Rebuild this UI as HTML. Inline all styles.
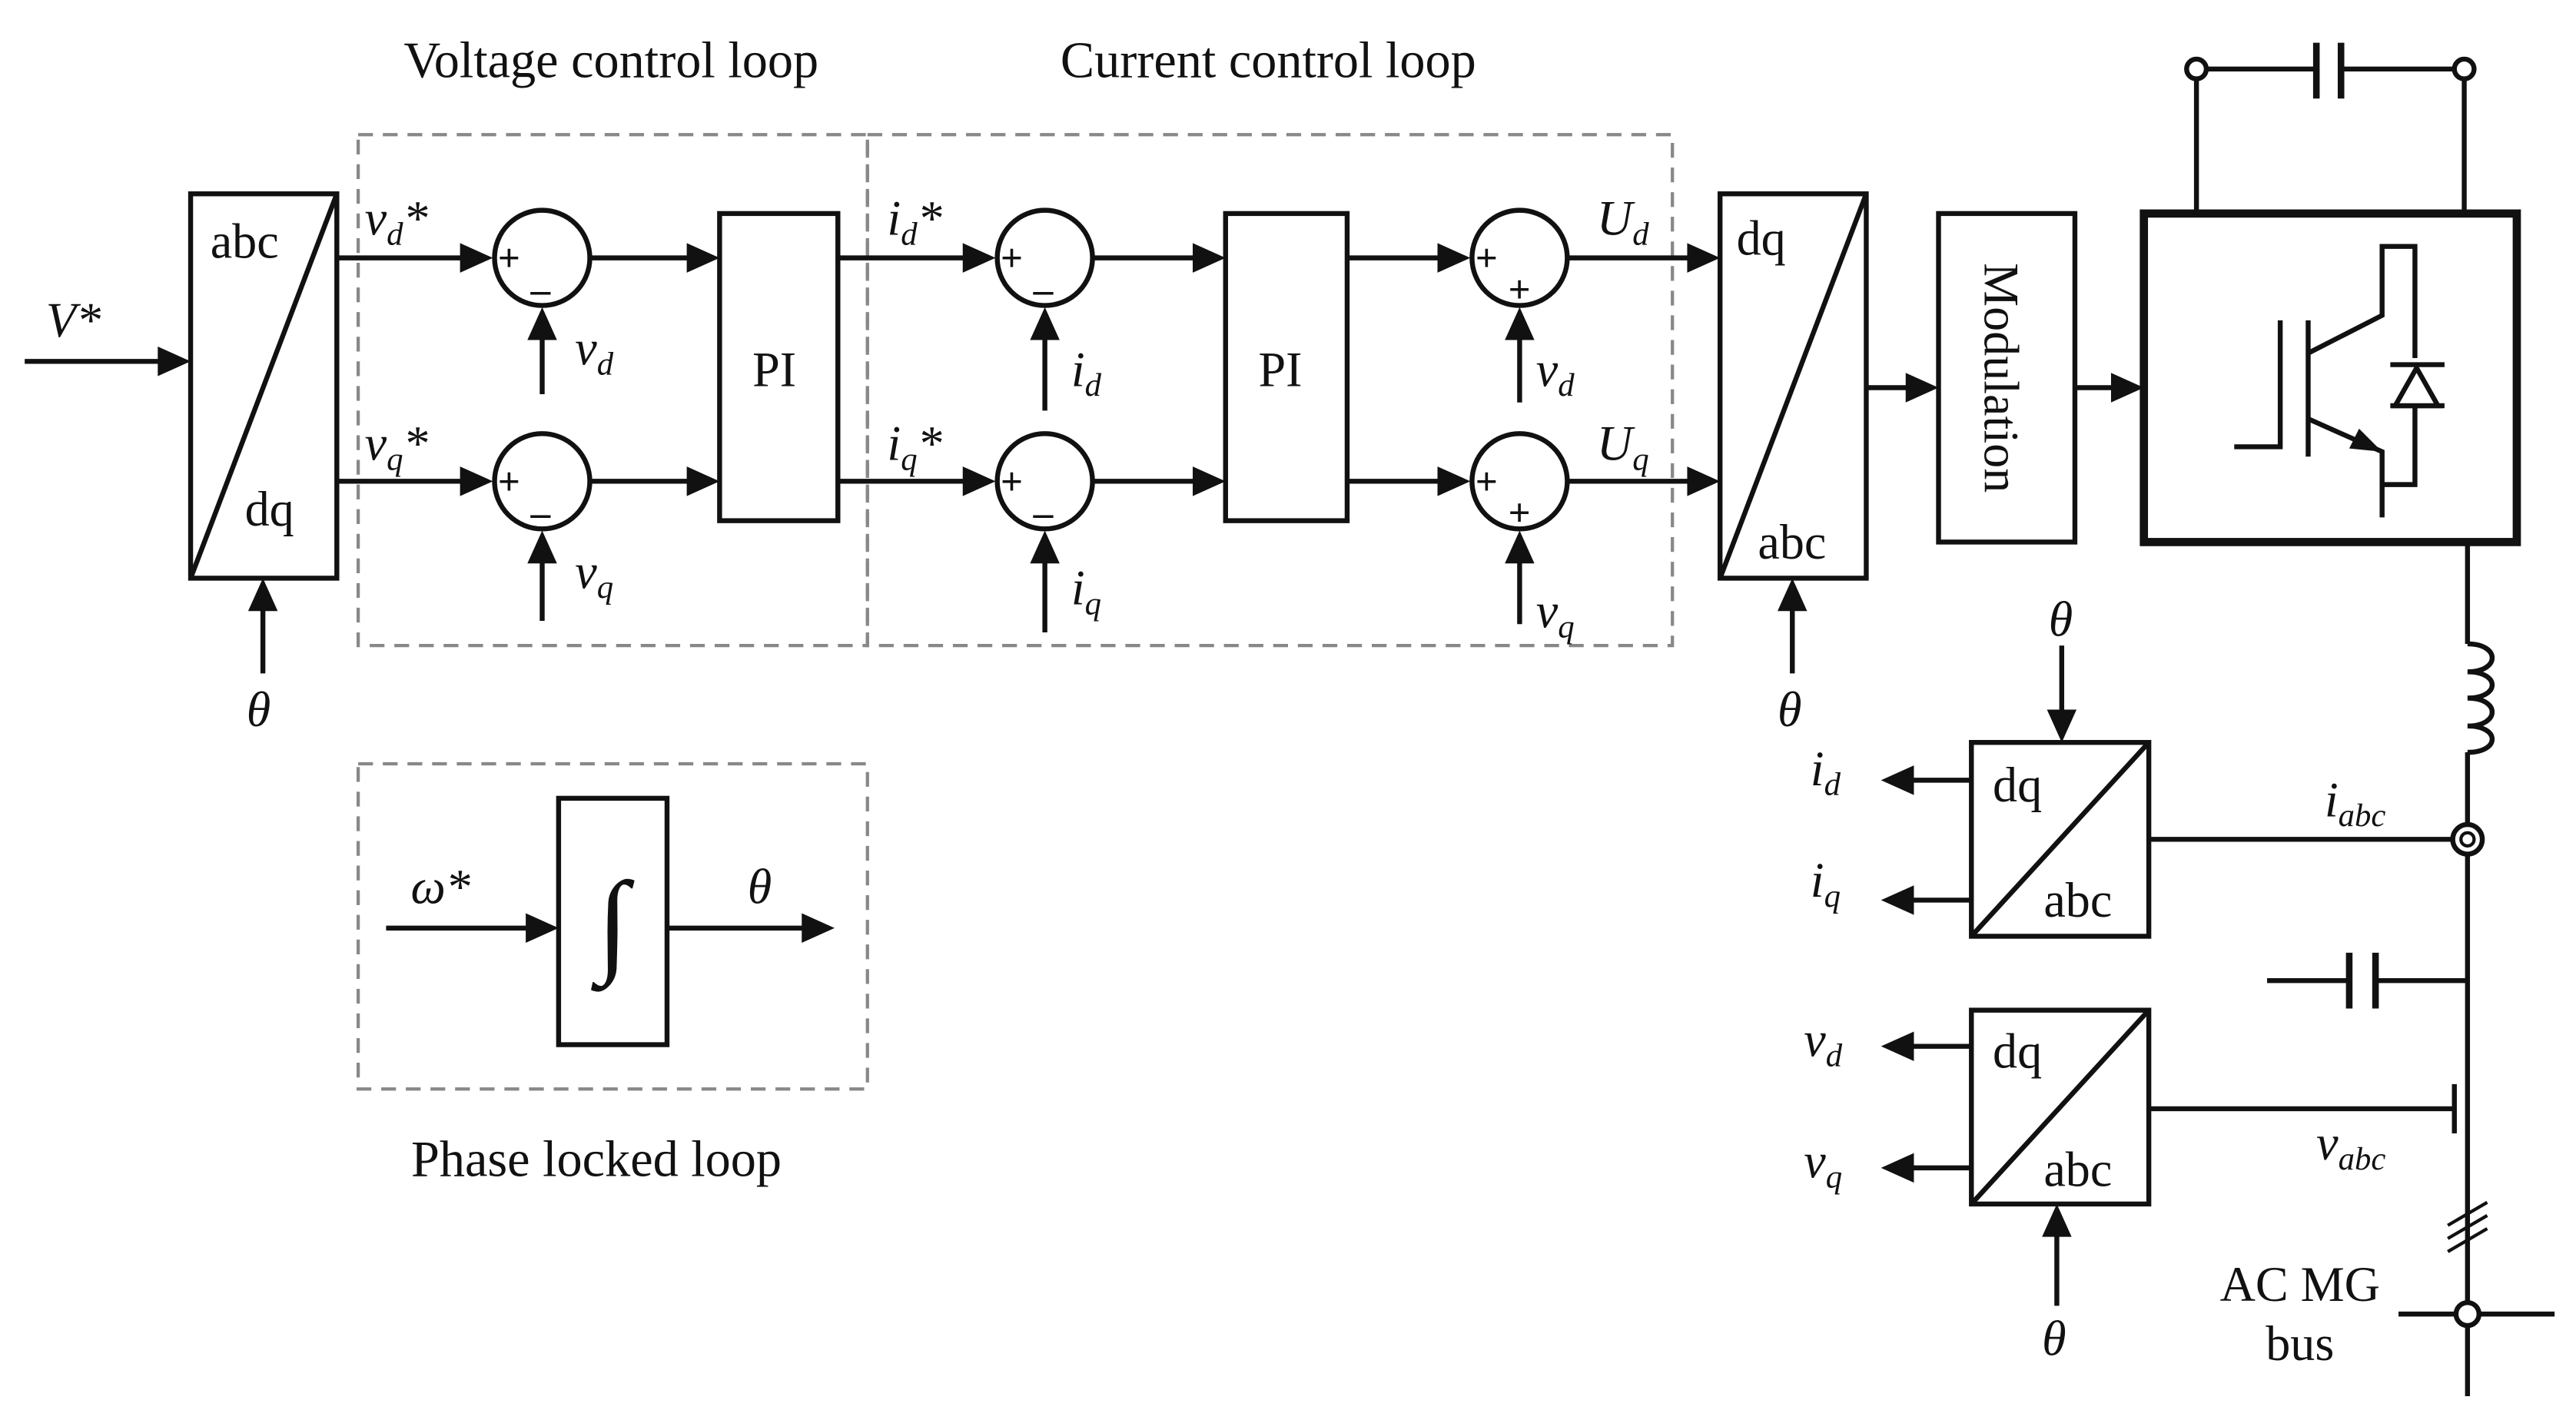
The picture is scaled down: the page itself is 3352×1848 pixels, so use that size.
<!DOCTYPE html>
<html><head><meta charset="utf-8"><style>
html,body{margin:0;padding:0;background:#fff}
svg{display:block}
text{font-family:"Liberation Serif",serif;fill:#111}
.i{font-style:italic}
</style></head><body>
<svg width="3352" height="1848" viewBox="0 0 1568 864.5" xmlns="http://www.w3.org/2000/svg">
<g fill="none" stroke="#888" stroke-width="2" stroke-dasharray="9,6">
<rect x="218" y="82" width="310" height="311"/>
<rect x="528" y="82" width="490" height="311"/>
<rect x="218" y="465" width="310" height="198"/>
</g>
<g font-size="31">
<text x="372" y="47" text-anchor="middle">Voltage control loop</text>
<text x="772" y="47" text-anchor="middle">Current control loop</text>
<text x="363" y="716" text-anchor="middle">Phase locked loop</text>
</g>
<g fill="none" stroke="#111" stroke-width="3">
<rect x="116" y="118" width="89" height="234"/><line x1="116" y1="352" x2="205" y2="118"/>
<rect x="438" y="130" width="72" height="187"/>
<rect x="746" y="130" width="74" height="187"/>
<rect x="1047" y="118" width="89" height="234"/><line x1="1047" y1="352" x2="1136" y2="118"/>
<rect x="1180" y="130" width="83" height="200"/>
<rect x="1305" y="130" width="227" height="200" stroke-width="5"/>
<rect x="1200" y="452" width="108" height="118"/><line x1="1200" y1="570" x2="1308" y2="452"/>
<rect x="1200" y="615" width="108" height="118"/><line x1="1200" y1="733" x2="1308" y2="615"/>
<rect x="340" y="486" width="66" height="150"/>
<circle cx="330" cy="157" r="29"/><circle cx="330" cy="293" r="29"/>
<circle cx="636" cy="157" r="29"/><circle cx="636" cy="293" r="29"/>
<circle cx="925" cy="157" r="29"/><circle cx="925" cy="293" r="29"/>
<path d="M15 220H108M160 410V360M205 157H292M205 293H292M330 240V195M330 378V331M360 157H430M360 293H430M510 157H598M510 293H598M636 250V195M636 385V331M666 157H738M666 293H738M820 157H887M820 293H887M925 245V195M925 380V331M955 157H1039M955 293H1039M1091 410V360M1136 236H1172M1263 236H1297M1255 393V444M1200 475H1153M1200 548H1153M1200 637H1153M1200 711H1153M1252 795V741M235 565H332M406 565H500"/>
<path d="M1337 42H1410M1425 42H1500M1337 42V130M1500 42V130"/>
<path d="M1410 26V60M1425 26V60" stroke-width="4"/>
<path d="M1502 330V392M1502 458V502M1502 520V850M1308 511H1493M1380 597H1430M1446 597H1502M1308 675H1494M1494 660V690M1460 800H1555"/>
<path d="M1430 580V614M1446 580V614" stroke-width="4"/>
<path d="M1502 392c20 0 20 17 0 17c20 0 20 16 0 16c20 0 20 17 0 17c20 0 20 16 0 16" />
<path d="M1490 746l24-14M1490 754l24-14M1490 762l24-14" stroke-width="2"/>
<path d="M1388 195V272H1360M1405 195V278M1405 215L1450 192V150H1470V218M1405 255L1450 275V315M1450 295H1470V247M1455 247H1488M1455 222H1488"/>
</g>
<g fill="#111">
<circle cx="1337" cy="42" r="6" fill="#fff" stroke="#111" stroke-width="3"/>
<circle cx="1500" cy="42" r="6" fill="#fff" stroke="#111" stroke-width="3"/>
<circle cx="1502" cy="511" r="9" fill="#fff" stroke="#111" stroke-width="3"/>
<circle cx="1502" cy="511" r="4" fill="#fff" stroke="#111" stroke-width="2"/>
<circle cx="1502" cy="800" r="7" fill="#fff" stroke="#111" stroke-width="3"/>
<path d="M1458 247L1471 224L1484 247Z" fill="#fff" stroke="#111" stroke-width="3"/>
<path d="M1450 275l-20 -2l6 -12z"/>
<path d="M116 220l-20-9v18zM160 352l-9 20h18zM300 157l-20-9v18zM300 293l-20-9v18zM330 187l-9 20h18zM330 323l-9 20h18zM438 157l-20-9v18zM438 293l-20-9v18zM606 157l-20-9v18zM606 293l-20-9v18zM636 187l-9 20h18zM636 323l-9 20h18zM746 157l-20-9v18zM746 293l-20-9v18zM895 157l-20-9v18zM895 293l-20-9v18zM925 187l-9 20h18zM925 323l-9 20h18zM1047 157l-20-9v18zM1047 293l-20-9v18zM1091 352l-9 20h18zM1180 236l-20-9v18zM1305 236l-20-9v18zM1255 452l-9-20h18zM1145 475l20-9v18zM1145 548l20-9v18zM1145 637l20-9v18zM1145 711l20-9v18zM1252 733l-9 20h18zM340 565l-20-9v18zM508 565l-20-9v18z"/>
</g>
<g font-size="24" font-weight="bold" font-family="Liberation Sans,sans-serif">
<text x="303" y="165">+</text><text x="323" y="184">–</text>
<text x="303" y="301">+</text><text x="323" y="320">–</text>
<text x="609" y="165">+</text><text x="629" y="184">–</text>
<text x="609" y="301">+</text><text x="629" y="320">–</text>
<text x="898" y="165">+</text><text x="918" y="184">+</text>
<text x="898" y="301">+</text><text x="918" y="320">+</text>
</g>
<g font-size="30">
<text x="128" y="157">abc</text><text x="149" y="320">dq</text>
<text x="458" y="235">PI</text><text x="766" y="235">PI</text>
<text x="1057" y="155">dq</text><text x="1070" y="340">abc</text>
<text x="1213" y="488">dq</text><text x="1244" y="558">abc</text>
<text x="1213" y="650">dq</text><text x="1244" y="722">abc</text>
<text transform="translate(1208,230) rotate(90)" text-anchor="middle" font-size="30">Modulation</text>
<text x="1400" y="792" text-anchor="middle">AC MG</text>
<text x="1400" y="828" text-anchor="middle">bus</text>
<text x="373" y="585" text-anchor="middle" font-size="70">∫</text>
</g>
<g font-size="30" class="i">
<text x="28" y="205" class="i">V*</text>
<text x="150" y="442" class="i">θ</text>
<text x="1082" y="442" class="i">θ</text>
<text x="1247" y="387" class="i">θ</text>
<text x="1243" y="825" class="i">θ</text>
<text x="455" y="550" class="i">θ</text>
<text x="250" y="550" class="i">ω*</text>
<text x="222" y="143" class="i">v<tspan font-size="20" dy="6">d</tspan><tspan dy="-6">*</tspan></text>
<text x="222" y="280" class="i">v<tspan font-size="20" dy="6">q</tspan><tspan dy="-6">*</tspan></text>
<text x="350" y="222" class="i">v<tspan font-size="20" dy="6">d</tspan></text>
<text x="350" y="358" class="i">v<tspan font-size="20" dy="6">q</tspan></text>
<text x="540" y="143" class="i">i<tspan font-size="20" dy="6">d</tspan><tspan dy="-6">*</tspan></text>
<text x="540" y="280" class="i">i<tspan font-size="20" dy="6">q</tspan><tspan dy="-6">*</tspan></text>
<text x="652" y="235" class="i">i<tspan font-size="20" dy="6">d</tspan></text>
<text x="652" y="368" class="i">i<tspan font-size="20" dy="6">q</tspan></text>
<text x="935" y="235" class="i">v<tspan font-size="20" dy="6">d</tspan></text>
<text x="935" y="382" class="i">v<tspan font-size="20" dy="6">q</tspan></text>
<text x="972" y="143" class="i">U<tspan font-size="20" dy="6">d</tspan></text>
<text x="972" y="280" class="i">U<tspan font-size="20" dy="6">q</tspan></text>
<text x="1102" y="478" class="i">i<tspan font-size="20" dy="6">d</tspan></text>
<text x="1102" y="546" class="i">i<tspan font-size="20" dy="6">q</tspan></text>
<text x="1098" y="643" class="i">v<tspan font-size="20" dy="6">d</tspan></text>
<text x="1098" y="717" class="i">v<tspan font-size="20" dy="6">q</tspan></text>
<text x="1415" y="497" class="i">i<tspan font-size="20" dy="6">abc</tspan></text>
<text x="1410" y="706" class="i">v<tspan font-size="20" dy="6">abc</tspan></text>
</g>
</svg>
</body></html>
